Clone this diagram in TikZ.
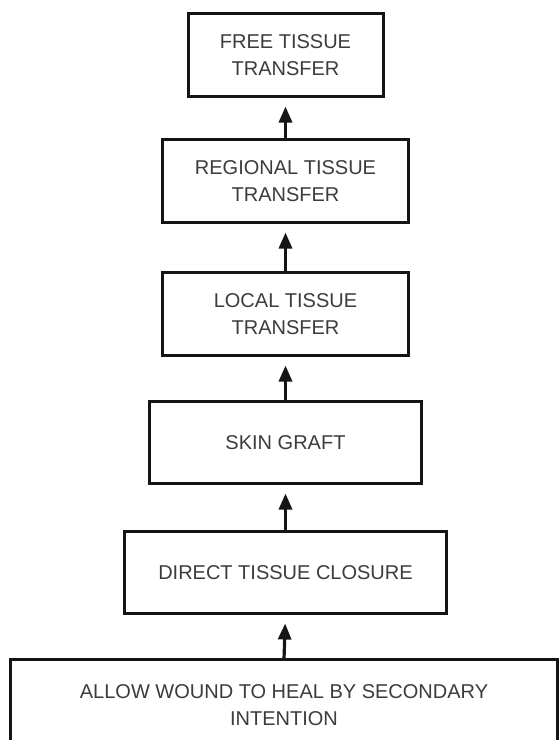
\documentclass[tikz,border=0pt]{standalone}
\usepackage{fontspec}
\setmainfont{Liberation Sans}
\usetikzlibrary{arrows.meta,positioning}
\definecolor{BoxBlack}{HTML}{151515}
\definecolor{TextGrey}{HTML}{3C3C3C}

\begin{document}
\begin{tikzpicture}[x=1pt,y=-1pt,
  font=\fontsize{20}{27}\selectfont,
  b/.style={draw=BoxBlack,line width=3pt,align=center,text=TextGrey,inner sep=2pt,outer sep=0pt,minimum height=83pt,fill=white},
  up/.style={-{Triangle[length=16pt,width=13pt]},BoxBlack,line width=3.2pt,shorten >=10pt}]
  \useasboundingbox[fill=white] (0,0) rectangle (558,740);
  \node[b,minimum width=195pt] (free) at (285.5,55) {FREE TISSUE\\TRANSFER};
  \node[b,minimum width=246pt,below=43pt of free] (regional) {REGIONAL TISSUE\\TRANSFER};
  \node[b,minimum width=246pt,below=50pt of regional] (local) {LOCAL TISSUE\\TRANSFER};
  \node[b,minimum width=272pt,minimum height=82pt,below=46pt of local] (skin) {SKIN GRAFT};
  \node[b,minimum width=322pt,minimum height=82pt,below=48pt of skin] (direct) {DIRECT TISSUE CLOSURE};
  % bottom edge runs off the page
  \node[b,minimum width=547pt,minimum height=92pt,below=46pt of direct,xshift=-1.5pt] (allow) {ALLOW WOUND TO HEAL BY SECONDARY\\INTENTION};
  \draw[up] (regional.north) -- (free.south);
  \draw[up] (local.north) -- (regional.south);
  \draw[up] (skin.north) -- (local.south);
  \draw[up] (direct.north) -- (skin.south);
  \draw[up] (allow.north) -- (direct.south);
\end{tikzpicture}
\end{document}
